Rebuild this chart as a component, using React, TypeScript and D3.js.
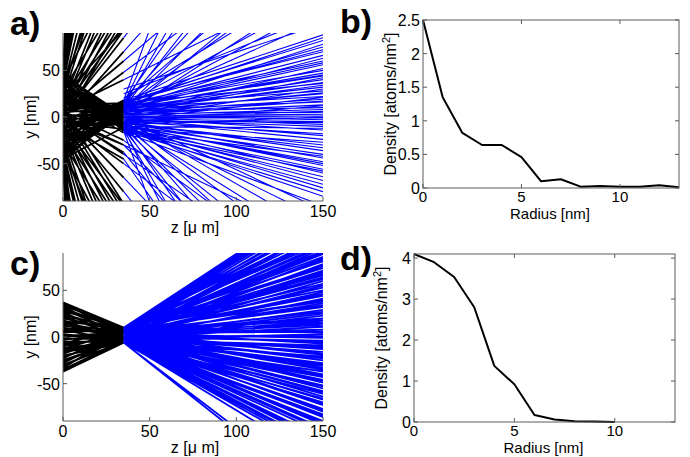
import React from 'react';
import * as d3 from 'd3';

// trajectories: black part from z = 0 to 35 µm, blue part from 35 to 150 µm (y in nm)
const zStart = 0;
const zSplit = 35;
const zEnd = 150;

// panel a
const aBlackStart = [
  50, 47, 44, 41, 38, 35, 32, 29, 26, 23, 20, 17, 14, 11, 8, 5, 2, -1, -4, -7, -10, -13, -16, -19, -22, -25, -28, -31, -34, -37, -40, -43, -46, -49,
  45, 36, 27, 18, 9, 0, -9, -18, -27, -36, -45,
  48, 43, 39, 34, 30, 25, 21, 16, 12, 7, 3, -2, -6, -11, -15, -20, -24, -29, -33, -38, -42, -47, 40, 31, 22, 13, 4, -5, -14, -23, -32, -41,
  45, 40, 35, 30, 48, 25, 20, 38, 15, 10, 28, 5, 18, 0, 12, -5, 8, 22, 2, 50, 42, 33,
  -45, -40, -35, -30, -48, -25, -20, -38, -15, -10, -28, -5, -18, 0, -12, 5, -8, -50, -42, -33, 10,
  2, -3, 5, 0, 8, 0, 3, -2, 4, 1, 2, -3, 6, -8,
];
const aBlackSplit = [
  -13, -8, -14, -4, -10, -2, -7, 0, -5, 3, -3, 5, -1, 8, 1, 10, 3, 12, 5, 14, 7, 16, 9, 17, 11, 15, 6, 18, 12, 16, 9, 17, 13, 18,
  2, -12, 8, -9, 12, -6, 0, 14, -2, 7, -11,
  -6, 0, -12, 6, -1, -9, 10, 2, -11, 13, -4, 16, 0, 11, -7, 4, 17, -1, 8, 14, 3, 10, -15, 4, -17, 15, -8, -13, 18, -4, 2, 12,
  832, 477, 356, 292, 538, 252, 224, 168, 179, 166, 136, 140, 123, 121, 110, 106, 98, 94, 93, 1450, 378, 214,
  -832, -477, -310, -263, -538, -232, -208, -159, -169, -157, -131, -134, -119, -117, -106, -102, -95, -1450, -322, -199, -93,
  85, 70, 60, 48, 40, -80, -65, -50, -40, -30, -38, -30, -25, -45,
];
const aBlueSplit = [
  18, 15, 12, 16, 10, 14, 8, 17, 5, 11, 20, 3, 13, 7, 25, 9, 30,
  85, 70, 60, 48, 40, 93, 98, 94,
  -80, -65, -50, -40, -30, -38, -30, -25, -45,
  18, 16, 15, 17, 12, 14, 10, 13, 11, 9, 15, 8, 12, 6, 10, 5, 8, 3, 6, 2, 4, 1, 0, -1, 2, -2, 0, -3, -1, -5, -3, -7, -5, -9, -6, -10, -8, -12, -9, -13, -11, -14, -12, -15, -13,
  14, 9, 16, 7, 12, 4, 10, 2, 8, -1, 5, -3, 3, -6, 0, -8, -4, -10, -2, -12, -7, -14, -9, -15, 6, 11,
  -15, -12, -14, -10, -13, -8, -11, -6, -9, -4, -7, -2, -5, 0, -16,
];
const aBlueEnd = [
  600, 450, 380, 320, 280, 250, 220, 200, 180, 165, 150, 140, 130, 120, 110, 105, 100,
  358, 310, 241, 206, 145, 400, 350, 380,
  -342, -288, -208, -185, -132, -300, -240, -180, -350,
  88, 82, 75, 70, 66, 60, 56, 50, 45, 40, 36, 32, 28, 25, 22, 19, 16, 13, 10, 8, 5, 3, 1, -1, -3, -5, -8, -10, -14, -18, -24, -30, -36, -40, -44, -48, -52, -56, -60, -64, -68, -72, -76, -80, -85,
  85, 78, 72, 63, 58, 52, 47, 42, 37, 30, 26, 21, 17, 12, 6, 0, -6, -12, -20, -27, -33, -42, -50, -58, 34, 44,
  -600, -450, -380, -320, -280, -250, -220, -200, -180, -160, -140, -125, -110, -100, -95,
];

// panel c
const cBlackStart = [
  37, 36, 34, 33, 31, 30, 28, 27, 25, 23, 22, 20, 18, 17, 15, 13, 12, 10, 8, 7,
  5, 3, 2, 0, -2, -3, -5, -7, -8, -10, -12, -13, -15, -17, -18, -20, -22, -23, -25, -27,
  -28, -30, -32, -33, -35, -37,
];
const cBlackSplit = [
  10, 4, 9, -2, 7, 2, 10, -4, 5, 8, 0, 6, -5, 9, 3, -1, 7, 1, -6, 5,
  8, -3, 2, 6, -1, 4, -5, 9, 0, 3, -4, 7, 1, -2, 5, -6, 2, 8, -3, 0,
  4, -5, 1, 6, -4, -6,
];
const cBlueSplit = [
  10, 8, 9, 6, 10, 7, 4, 9, 5, 8, 3, 10, 6, 2, 7, 9, 4, 1, 8, 5,
  6, 3, 10, 0, 7, 4, 2, 9, 5, -1, 6, 3, 8, 1, 4, -2, 7, 2, 5, 0,
  3, -3, 6, 1, 4, -1, 2, 8, -2, 3, 0, 5, -3, 1, -1, 4, -4, 2, -2, 0,
  3, -5, 1, -3, -1, 2, -4, 0, -2, -5, 1, -3, -6, -1, -4, 0, -5, -2, -6, -3,
  -4, -5, -6, -4, -5, -6, -5, -6, -6,
  9, 7, 10, 6, 8, 3, 9, 5, 7, 2, 8, 4, 6, 1, 5, 7, 3, 0, 6, 2,
  4, -1, 3, -2, 5, 1, -3, 2, -1, -4, 0, -2, -5, 1, -3, -6, -2, -4, -5, -6, -5,
];
const cBlueEnd = [
  150, 146, 143, 139, 137, 133, 130, 126, 124, 120, 117, 114, 111, 108, 104, 101, 99, 95, 92, 89,
  86, 83, 81, 78, 74, 71, 69, 66, 62, 60, 57, 53, 50, 48, 44, 41, 38, 36, 32, 29,
  27, 23, 20, 17, 15, 11, 8, 5, 3, -1, -4, -7, -9, -13, -16, -19, -21, -25, -28, -31,
  -33, -37, -40, -43, -46, -49, -52, -55, -58, -61, -64, -67, -70, -73, -77, -80, -83, -86, -90, -94,
  -98, -103, -108, -113, -119, -126, -135, -168, -175,
  148, 141, 135, 128, 122, 115, 106, 97, 90, 84, 76, 67, 64, 55, 46, 39, 34, 25, 18, 13,
  6, 1, -6, -11, -18, -23, -30, -35, -42, -47, -53, -59, -66, -72, -78, -85, -92, -100, -110, -122, -117,
];

// density profiles
const radiusB = [0, 1, 2, 3, 4, 5, 6, 7, 8, 9, 10, 11, 12, 13];
const densityB = [2.5, 1.35, 0.82, 0.64, 0.64, 0.46, 0.1, 0.13, 0.02, 0.03, 0.02, 0.02, 0.04, 0.01];
const radiusD = [0, 1, 2, 3, 4, 5, 6, 7, 8, 9, 10];
const densityD = [4.1, 3.9, 3.54, 2.8, 1.37, 0.92, 0.17, 0.06, 0.02, 0.01, 0.0];

const zTicks = [0, 50, 100, 150];
const yTicks = [-50, 0, 50];
const radiusTicks = [0, 5, 10];
const densityBTicks = [0, 0.5, 1, 1.5, 2, 2.5];
const densityDTicks = [0, 1, 2, 3, 4];

const FONT = '"Liberation Sans", Arial, Helvetica, sans-serif';
const AXIS = '#5a5a5a';

function segments(z0: number, z1: number, y0s: number[], y1s: number[], x: any, y: any) {
  const line = d3.line<[number, number]>().x(d => x(d[0])).y(d => y(d[1]));
  return d3.zip(y0s, y1s).map(([a, b]) => line([[z0, a], [z1, b]])).join('');
}

function Trajectories({ id, top, bottom, blackStart, blackSplit, blueSplit, blueEnd, blackWidth, blueWidth }: any) {
  const x = d3.scaleLinear().domain([0, 150]).range([63, 323]);
  const y = d3.scaleLinear().domain([-90, 90]).range([bottom, top]);
  const left = x(0), right = x(150);
  return (
    <g>
      <defs>
        <clipPath id={id}>
          <rect x={left} y={top} width={right - left} height={bottom - top} />
        </clipPath>
      </defs>
      <g clipPath={`url(#${id})`} fill="none">
        <path d={segments(zStart, zSplit, blackStart, blackSplit, x, y)} stroke="#000" strokeWidth={blackWidth} />
        <path d={segments(zSplit, zEnd, blueSplit, blueEnd, x, y)} stroke="#0000ff" strokeWidth={blueWidth} />
      </g>
      <line x1={left} x2={left} y1={top} y2={bottom} stroke={AXIS} />
      <line x1={left} x2={right} y1={bottom} y2={bottom} stroke={AXIS} />
      {zTicks.map(t => (
        <g key={'z' + t}>
          <line x1={x(t)} x2={x(t)} y1={bottom} y2={bottom - 4} stroke={AXIS} />
          <text x={x(t)} y={bottom + 16} textAnchor="middle" fontSize={16}>{t}</text>
        </g>
      ))}
      {yTicks.map(t => (
        <g key={'y' + t}>
          <line x1={left} x2={left + 4} y1={y(t)} y2={y(t)} stroke={AXIS} />
          <text x={left - 3} y={y(t) + 6} textAnchor="end" fontSize={16}>{t}</text>
        </g>
      ))}
      <text x={(left + right) / 2 + 2} y={bottom + 32} textAnchor="middle" fontSize={16}>z [μ m]</text>
      <text transform={`translate(36,${y(0)}) rotate(-90)`} textAnchor="middle" fontSize={16}>y [nm]</text>
    </g>
  );
}

function Density({ left, right, top, bottom, ymax, radius, density, ticks }: any) {
  const x = d3.scaleLinear().domain([0, 13]).range([left, right]);
  const y = d3.scaleLinear().domain([0, ymax]).range([bottom, top]);
  const line = d3.line<number>().x((_, i) => x(radius[i])).y(d => y(d));
  return (
    <g>
      <path d={line(density) ?? ''} fill="none" stroke="#000" strokeWidth={2} strokeLinejoin="round" />
      <rect x={left} y={top} width={right - left} height={bottom - top} fill="none" stroke={AXIS} />
      {radiusTicks.map(t => (
        <g key={'r' + t}>
          <line x1={x(t)} x2={x(t)} y1={bottom} y2={bottom - 4} stroke={AXIS} />
          <line x1={x(t)} x2={x(t)} y1={top} y2={top + 4} stroke={AXIS} />
          <text x={x(t)} y={bottom + 14} textAnchor="middle" fontSize={15}>{t}</text>
        </g>
      ))}
      {ticks.map((t: number) => (
        <g key={'d' + t}>
          <line x1={left} x2={left + 4} y1={y(t)} y2={y(t)} stroke={AXIS} />
          <line x1={right} x2={right - 4} y1={y(t)} y2={y(t)} stroke={AXIS} />
          <text x={left - 3} y={y(t) + 6} textAnchor="end" fontSize={16}>{d3.format('')(t)}</text>
        </g>
      ))}
      <text x={(left + right) / 2 - 1} y={bottom + 31} textAnchor="middle" fontSize={15}>Radius [nm]</text>
      <text transform={`translate(${left - 27},${(top + bottom) / 2}) rotate(-90)`} textAnchor="middle" fontSize={16}>
        Density [atoms/nm<tspan dy={-6} fontSize={11}>2</tspan><tspan dy={6}>]</tspan>
      </text>
    </g>
  );
}

export default function App() {
  return (
    <svg width={690} height={457} style={{ position: 'absolute', left: 0, top: 0, background: '#fff' }}
      fontFamily={FONT} fill="#000">
      <Trajectories id="clipA" top={33} bottom={201} blackWidth={1.7} blueWidth={1.1}
        blackStart={aBlackStart} blackSplit={aBlackSplit} blueSplit={aBlueSplit} blueEnd={aBlueEnd} />
      <Trajectories id="clipC" top={253} bottom={421} blackWidth={2} blueWidth={1.8}
        blackStart={cBlackStart} blackSplit={cBlackSplit} blueSplit={cBlueSplit} blueEnd={cBlueEnd} />
      <Density left={423} right={679} top={20} bottom={188} ymax={2.5}
        radius={radiusB} density={densityB} ticks={densityBTicks} />
      <Density left={414} right={675} top={254} bottom={422} ymax={4.1}
        radius={radiusD} density={densityD} ticks={densityDTicks} />
      <g fontSize={34} fontWeight="bold">
        <text x={10} y={35}>a)</text>
        <text x={340} y={33}>b)</text>
        <text x={10} y={275}>c)</text>
        <text x={340} y={270}>d)</text>
      </g>
    </svg>
  );
}
